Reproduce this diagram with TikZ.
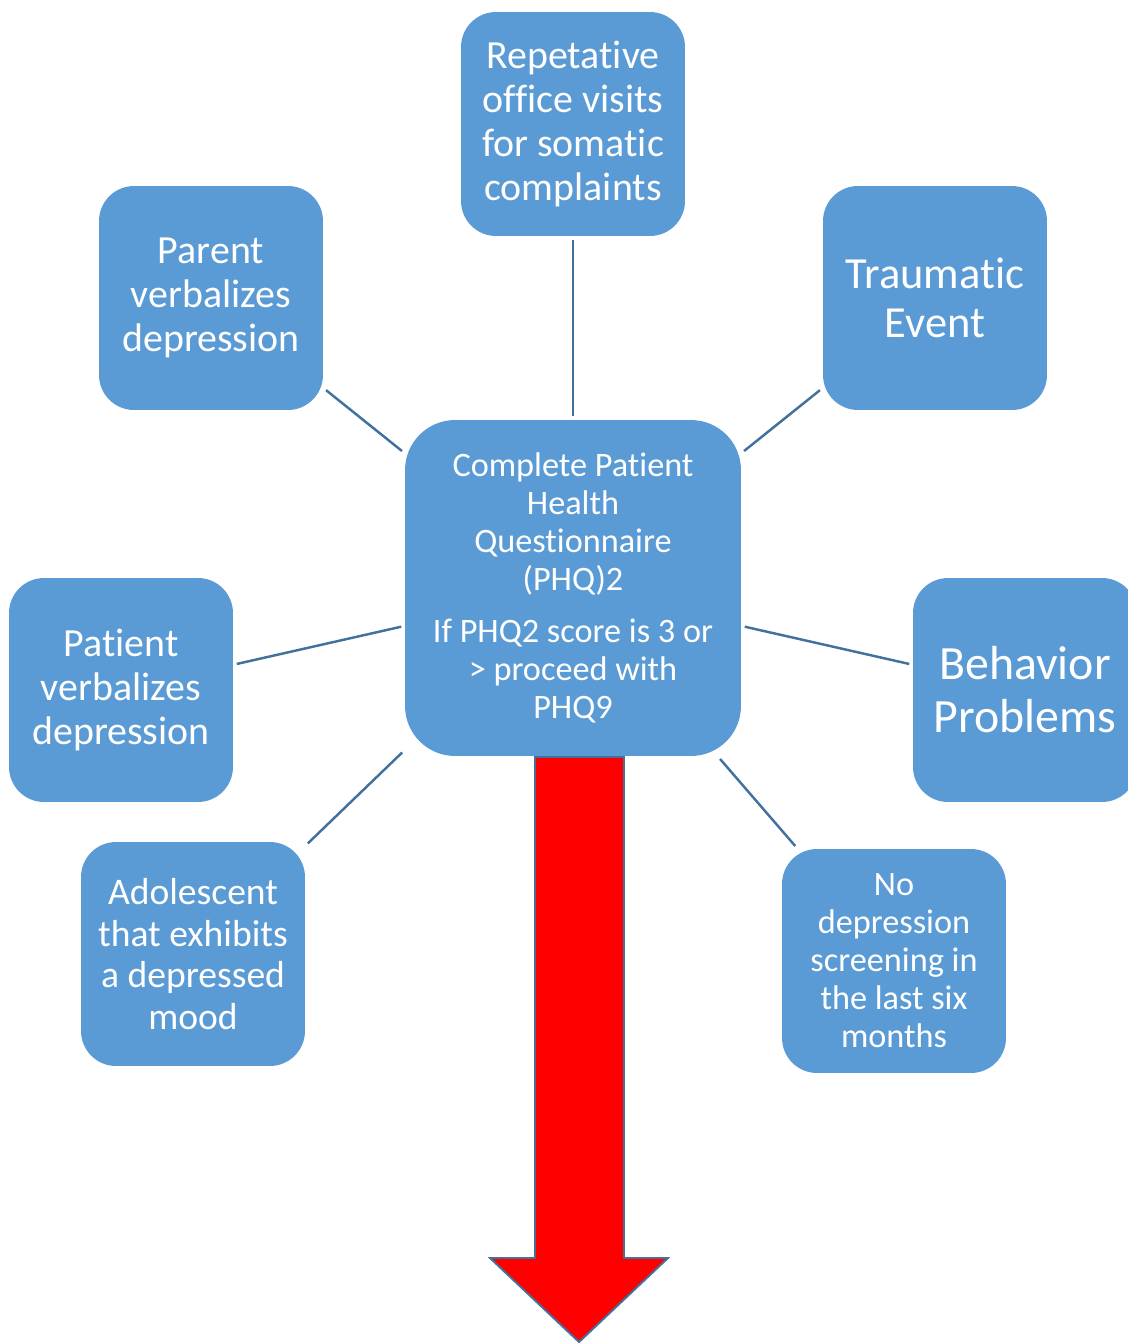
\documentclass[tikz,border=0pt]{standalone}
\usepackage{fontspec}
\setmainfont{Carlito}[Ligatures=NoCommon]
\usetikzlibrary{positioning}
\definecolor{boxblue}{HTML}{5B9BD5}
\definecolor{lineblue}{HTML}{41719C}

\begin{document}
\begin{tikzpicture}[
    x=0.02cm, y=-0.02cm,
    box/.style={fill=boxblue, text=white, align=center, minimum width=4.48cm, minimum height=4.48cm, rounded corners=0.7cm, inner sep=2pt},
    hub/.style={box, minimum width=6.72cm, minimum height=6.72cm, rounded corners=1cm},
    link/.style={draw=lineblue, line width=1.4pt, shorten <=2pt, shorten >=2pt},
    blockarrow/.style={fill=red, draw=lineblue, line width=1.1pt}
]
\useasboundingbox (0,0) rectangle (1128,1343);
\clip (0,0) rectangle (1128,1343);

% Centre
\node[hub, font=\fontsize{19.5}{21.6}\selectfont] (phq) at (573,588)
    {Complete Patient\\ Health\\ Questionnaire\\ (PHQ)2\\[8pt]
     If PHQ2 score is 3 or\\ > proceed with\\ PHQ9};

% Surrounding triggers
\node[box, font=\fontsize{22.7}{25}\selectfont] (visits) at (573,124)
    {Repetative\\ office visits\\ for somatic\\ complaints};
\node[box, font=\fontsize{22.7}{25}\selectfont] (parent) at (211,298)
    {Parent\\ verbalizes\\ depression};
\node[box, font=\fontsize{25.3}{27.9}\selectfont] (trauma) at (935,298)
    {Traumatic\\ Event};
\node[box, font=\fontsize{22.7}{25}\selectfont] (patient) at (121,690)
    {Patient\\ verbalizes\\ depression};
\node[box, font=\fontsize{27.2}{30.2}\selectfont] (behavior) at (1025,690)
    {Behavior\\ Problems};
\node[box, font=\fontsize{21.4}{23.6}\selectfont] (adolescent) at (193,954)
    {Adolescent\\ that exhibits\\ a depressed\\ mood};
\node[box, font=\fontsize{19.5}{21.6}\selectfont] (noscreen) at (894,961)
    {No\\ depression\\ screening in\\ the last six\\ months};

% Spokes
\draw[link] (phq) -- (visits);
\draw[link] (phq) -- (parent);
\draw[link] (phq) -- (trauma);
\draw[link] (phq) -- (patient);
\draw[link] (phq) -- (behavior);
\draw[link] (phq) -- (adolescent);
\draw[link] (phq) -- (noscreen);

% Big red arrow
\draw[blockarrow] (535,757) -- (624,757) -- (624,1258) -- (668,1258)
    -- (579,1342) -- (490,1258) -- (535,1258) -- cycle;

\end{tikzpicture}
\end{document}
